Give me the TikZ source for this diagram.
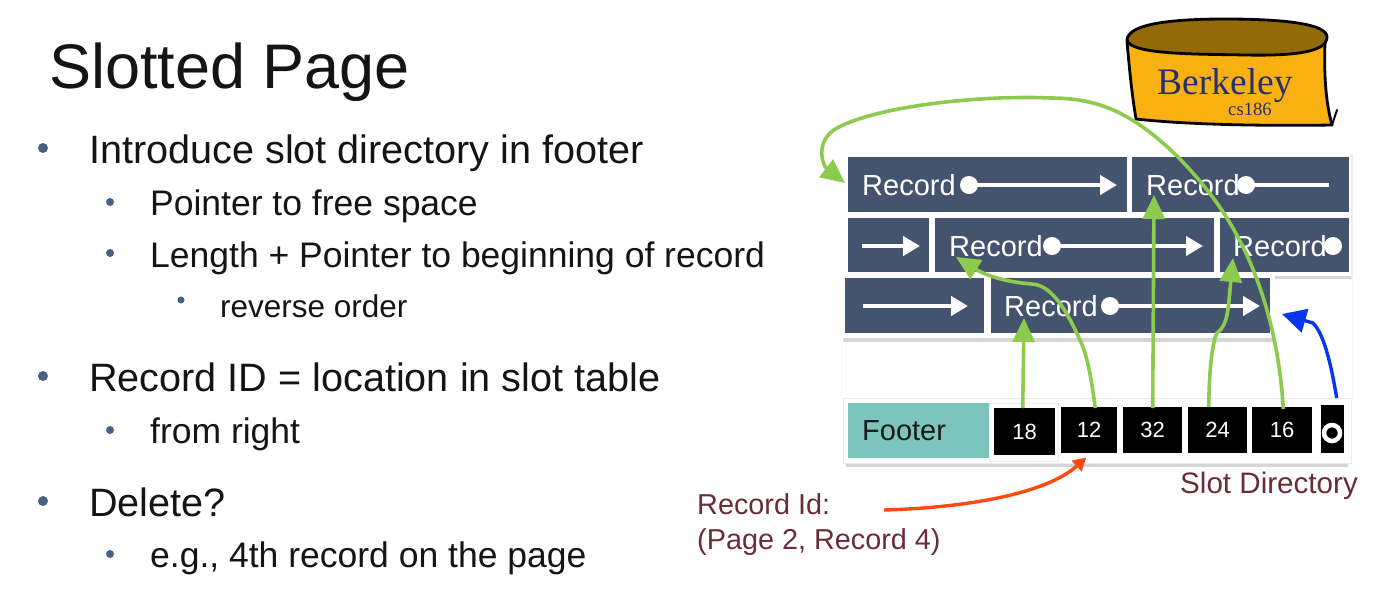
\documentclass[tikz,border=0pt]{standalone}
\usepackage{fontspec}
\setmainfont{Liberation Sans}
\newfontfamily\logofont{Liberation Serif}
\usetikzlibrary{arrows.meta}
\definecolor{slate}{HTML}{44546F}
\definecolor{bulletc}{HTML}{4A5F85}
\definecolor{tealf}{HTML}{7CC5BD}
\definecolor{greena}{HTML}{8CCB4E}
\definecolor{bluea}{HTML}{0A35F0}
\definecolor{reda}{HTML}{FF4A12}
\definecolor{maroon}{HTML}{6B2B3A}
\definecolor{gold}{HTML}{F8B110}
\definecolor{brownl}{HTML}{936A08}
\definecolor{navyl}{HTML}{27306F}
\newcommand{\fs}[1]{\fontsize{#1}{#1}\selectfont}
\tikzset{
 txt/.style={anchor=base west,inner sep=0pt,text=black!92},
 lone/.style={txt,font=\fs{39.6}},
 ltwo/.style={txt,font=\fs{35.5}},
 lthree/.style={txt,font=\fs{31.5}},
 bul/.style={circle,fill=bulletc,inner sep=0pt,minimum size=#1},
 shadowp/.style={fill=black!16,draw=none},
 rec/.style={fill=slate,draw=none,inner sep=0pt,anchor=north west},
 recl/.style={anchor=base west,inner sep=0pt,text=white,font=\fs{29}},
 cell/.style={fill=black,text=white,inner sep=0pt,anchor=north west,font=\fs{22}},
 dot/.style={circle,fill=white,inner sep=0pt,minimum size=18pt},
 wline/.style={draw=white,line width=4.4pt},
 warrow/.style={wline,-{Triangle[length=17pt,width=19pt]}},
 green/.style={draw=greena,line width=3.6pt,-{Triangle[length=24pt,width=22pt,fill=greena]}},
 maroontext/.style={anchor=base west,inner sep=0pt,text=maroon,font=\fs{28.8}},
}
\begin{document}
\begin{tikzpicture}[x=1pt,y=-1pt]
\useasboundingbox (0,0) rectangle (1373,603);
% title and outline
\node[txt,font=\fs{63}] (title) at (49,88) {Slotted Page};
\node[bul=10pt] (b1) at (43,148) {};
\node[lone] (t1) at (89,163) {Introduce slot directory in footer};
\node[bul=8pt] (b2) at (110,202) {};
\node[ltwo] (t2) at (150,215) {Pointer to free space};
\node[bul=8pt] (b3) at (110,253) {};
\node[ltwo] (t3) at (150,267) {Length + Pointer to beginning of record};
\node[bul=7pt] (b4) at (181,300) {};
\node[lthree] (t4) at (220,317) {reverse order};
\node[bul=10pt] (b5) at (43,376) {};
\node[lone] (t5) at (89,391) {Record ID = location in slot table};
\node[bul=8pt] (b6) at (110,430) {};
\node[ltwo] (t6) at (150,443) {from right};
\node[bul=10pt] (b7) at (43,501) {};
\node[lone] (t7) at (89,516) {Delete?};
\node[bul=8pt] (b8) at (110,554) {};
\node[ltwo] (t8) at (150,567) {e.g., 4th record on the page};
% logo
\fill[gold] (1127,42) .. controls (1130,75) and (1132,95) .. (1136,119) .. controls (1190,125) and (1270,126) .. (1332,125) .. controls (1325,100) and (1324,70) .. (1325,42) -- cycle;
\draw[line width=2.8pt,line cap=round,line join=round] (1127,42) .. controls (1130,75) and (1132,95) .. (1136,119) .. controls (1190,125) and (1270,126) .. (1332,125) .. controls (1325,100) and (1324,70) .. (1325,42);
\draw[line width=2pt,line cap=round] (1332,125) -- (1337,110);
\draw[line width=2.8pt,fill=brownl] (1127,40) .. controls (1128,24) and (1170,19) .. (1225,19) .. controls (1285,19) and (1327,24) .. (1327,37) .. controls (1327,52) and (1295,56) .. (1245,55) .. controls (1200,54) and (1130,55) .. (1127,40) -- cycle;
\node[anchor=base west,inner sep=0pt,text=navyl,font=\logofont\fs{37.5}] (logo1) at (1157,94) {Berkeley};
\node[anchor=base west,inner sep=0pt,text=navyl,font=\logofont\fs{18.7}] (logo2) at (1228,115) {cs186};
% page plates
\fill[shadowp] (843,338) rectangle (1275,342);
\fill[shadowp] (1275,276) rectangle (1352,279);
\fill[black!7] (1351,154) rectangle (1353,278);
\fill[black!4] (841,342) rectangle (842,400);
\fill[black!4] (1352,279) rectangle (1353,400);
% records
\node[rec,minimum width=279pt,minimum height=55pt] (r1) at (848,157) {};
\node[rec,minimum width=217pt,minimum height=55pt] (r2) at (1132,157) {};
\node[rec,minimum width=81pt,minimum height=54pt] (r3) at (848,218) {};
\node[rec,minimum width=279pt,minimum height=54pt] (r4) at (935,218) {};
\node[rec,minimum width=129pt,minimum height=54pt] (r5) at (1220,218) {};
\node[rec,minimum width=139pt,minimum height=55pt] (r6) at (845,278) {};
\node[rec,minimum width=279pt,minimum height=55pt] (r7) at (991,278) {};
\node[recl] (l1) at (862,195) {Record};
\node[recl] (l2) at (1146,195) {Record};
\node[recl] (l3) at (949,256) {Record};
\node[recl] (l4) at (1233,256) {Record};
\node[recl] (l5) at (1004,316) {Record};
\node[dot] (d1) at (969,185) {};
\node[dot] (d2) at (1246,185) {};
\node[dot] (d3) at (1052,246) {};
\node[dot] (d4) at (1333,246) {};
\node[dot] (d5) at (1110,306) {};
\coordinate (e1) at (1117,185);
\coordinate (e2) at (1329,185);
\coordinate (s3) at (862,246);
\coordinate (e3) at (920,246);
\coordinate (e4) at (1203,246);
\coordinate (s6) at (863,306);
\coordinate (e6) at (968,306);
\coordinate (e7) at (1260,306);
\draw[warrow] (d1.center) -- (e1);
\draw[wline] (d2.center) -- (e2);
\draw[warrow] (s3) -- (e3);
\draw[warrow] (d3.center) -- (e4);
\draw[warrow] (s6) -- (e6);
\draw[warrow] (d5.center) -- (e7);
% footer
\fill[shadowp] (846,462) rectangle (1348,467);
\draw[draw=black!8,line width=.8pt,fill=white] (843,398) rectangle (1351,463);
\node[fill=tealf,anchor=north west,inner sep=0pt,minimum width=142pt,minimum height=55pt] (foot) at (848,403) {};
\node[anchor=base west,inner sep=0pt,font=\fs{29},text=black!90] (footl) at (862,440) {Footer};
\fill[white,draw=black!6] (989,403) rectangle (1058,461);
\node[cell,minimum width=61pt,minimum height=47pt] (c18) at (994,408) {\raisebox{-2pt}{18}};
\node[cell,minimum width=56pt,minimum height=46pt] (c12) at (1061,407) {12};
\node[cell,minimum width=59pt,minimum height=46pt] (c32) at (1123,407) {32};
\node[cell,minimum width=59pt,minimum height=46pt] (c24) at (1188,407) {24};
\node[cell,minimum width=60pt,minimum height=46pt] (c16) at (1252,407) {16};
\node[cell,minimum width=23pt,minimum height=48pt] (c0) at (1321,405) {};
\node[circle,draw=white,line width=4.5pt,fill=black,inner sep=0pt,minimum size=16pt] (ring) at (1332,433) {};
% green pointers
\coordinate (g18) at (1024,318);
\coordinate (g12a) at (1080,340);
\coordinate (g12b) at (1032,284);
\coordinate (g12) at (956,257);
\coordinate (g32) at (1154,195);
\coordinate (g24a) at (1217,333);
\coordinate (g24) at (1233,258);
\coordinate (g16a) at (1263,297);
\coordinate (g16b) at (1178,157);
\coordinate (g16c) at (1050,98);
\coordinate (g16d) at (837,128);
\coordinate (g16) at (845,183);
\draw[green] (c18.north) ++(-2,0) -- (g18);
\draw[green] (c12.north) ++(6,1) .. controls (1091,375) and (1087,355) .. (g12a) .. controls (1071,321) and (1055,285) .. (g12b) .. controls (1005,282) and (985,275) .. (g12);
\draw[green] (c32.north) ++(0,1) -- (g32);
\draw[green] (c24.north) ++(-9,0) .. controls (1209,380) and (1211,345) .. (g24a) .. controls (1228,325) and (1228,310) .. (g24);
\draw[green,-] (c16.north) ++(1,2) .. controls (1281,365) and (1272,325) .. (g16a) .. controls (1240,225) and (1205,185) .. (g16b) .. controls (1130,110) and (1095,98) .. (g16c) .. controls (985,95) and (880,105) .. (g16d);
\draw[green] (g16d) .. controls (815,140) and (822,165) .. (g16);
% blue pointer
\coordinate (bl) at (1282,314);
\draw[draw=bluea,line width=3.4pt,-{Triangle[length=24pt,width=24pt,fill=bluea]}] (c0.north) ++(4,-7) .. controls (1332,370) and (1325,335) .. (1313,323) -- (bl);
% red pointer
\node[maroontext] (rid1) at (697,514) {Record Id:};
\node[maroontext] (rid2) at (697,549) {(Page 2, Record 4)};
\node[maroontext,font=\fs{29.6}] (slot) at (1180,493) {Slot Directory};
\coordinate (rs) at (884,510);
\draw[draw=reda,line width=3.4pt,-{Triangle[length=13pt,width=14pt,fill=reda]}] (rs) .. controls (960,508) and (1045,495) .. ([shift={(-3,4)}]c12.south);
\end{tikzpicture}
\end{document}
